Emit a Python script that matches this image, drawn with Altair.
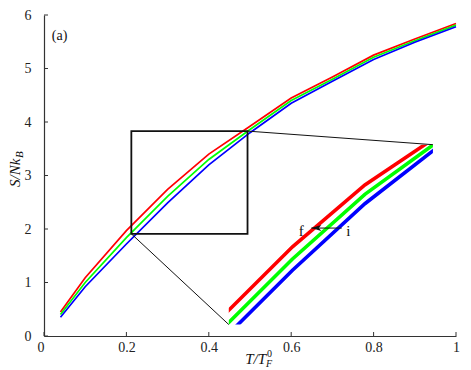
import altair as alt
import pandas as pd

# ---- data ----
T = [0.04, 0.1, 0.2, 0.3, 0.4, 0.5, 0.6, 0.7, 0.8, 0.9, 1.0]
S_red = [0.45, 1.09, 1.97, 2.74, 3.40, 3.92, 4.45, 4.84, 5.25, 5.55, 5.84]
S_green = [0.40, 1.00, 1.84, 2.61, 3.30, 3.86, 4.40, 4.80, 5.21, 5.52, 5.81]
S_blue = [0.35, 0.92, 1.72, 2.49, 3.20, 3.80, 4.35, 4.76, 5.17, 5.49, 5.78]
series = ["red", "green", "blue"]
colors = ["#ff0000", "#00ff00", "#0000ff"]

x_ticks = [0, 0.2, 0.4, 0.6, 0.8, 1]
y_ticks = [0, 1, 2, 3, 4, 5, 6]

# zoom box (data units) and where its magnified copy sits (main data units)
zoom_x = [0.212, 0.494]
zoom_y = [1.91, 3.83]
inset_x = [0.4485, 0.944]
inset_y = [0.2136, 3.576]

# arrow annotation inside the inset (zoomed data units)
arrow_T = [0.368, 0.326]
arrow_S = 2.94
label_text = ["f", "i"]
label_T = [0.312, 0.377]
label_S = [2.905, 2.905]

W, H = 412, 321
FONT = "Liberation Serif, Times New Roman, serif"

rows = []
for name, vals in zip(series, [S_red, S_green, S_blue]):
    for t, s in zip(T, vals):
        rows.append({"T": t, "S": s, "series": name})
df = pd.DataFrame(rows)

kx = (inset_x[1] - inset_x[0]) / (zoom_x[1] - zoom_x[0])
ky = (inset_y[1] - inset_y[0]) / (zoom_y[1] - zoom_y[0])
ex_x = f"{inset_x[0]} + (datum.T - {zoom_x[0]}) * {kx}"
ex_y = f"{inset_y[0]} + (datum.S - {zoom_y[0]}) * {ky}"


def mag(ch):
    return ch.transform_calculate(Ti=ex_x, Si=ex_y)


xsc = alt.Scale(domain=[0, 1], nice=False, zero=False)
ysc = alt.Scale(domain=[0, 6], nice=False, zero=False)
csc = alt.Scale(domain=series, range=colors)

xaxis = alt.Axis(
    values=x_ticks, labelExpr="'' + datum.value", title=None,
    ticks=False, grid=False, labelPadding=4,
    labelAlign={"condition": {"test": "datum.value == 0", "value": "right"},
                "value": "center"},
)
yaxis = alt.Axis(values=y_ticks, format="d", title=None, ticks=False,
                 grid=False, labelPadding=13)

main = alt.Chart(df).mark_line(strokeWidth=1.7).encode(
    x=alt.X("T:Q", scale=xsc, axis=xaxis),
    y=alt.Y("S:Q", scale=ysc, axis=yaxis),
    color=alt.Color("series:N", scale=csc, legend=None),
)

cx0, cx1 = inset_x[0] * W, inset_x[1] * W
cy0, cy1 = H * (1 - inset_y[1] / 6), H * (1 - inset_y[0] / 6)
clip_path = f"M{cx0:.2f},{cy0:.2f}H{cx1:.2f}V{cy1:.2f}H{cx0:.2f}Z"

inset = mag(alt.Chart(df)).mark_line(
    strokeWidth=3.6, clip=alt.ExprRef(expr=f"pathShape('{clip_path}')")
).encode(
    x=alt.X("Ti:Q", scale=xsc, axis=xaxis),
    y=alt.Y("Si:Q", scale=ysc, axis=yaxis),
    color=alt.Color("series:N", scale=csc, legend=None),
)

box_df = pd.DataFrame({"x": [zoom_x[0]], "x2": [zoom_x[1]],
                       "y": [zoom_y[0]], "y2": [zoom_y[1]]})
box = alt.Chart(box_df).mark_rect(fillOpacity=0, stroke="#111", strokeWidth=1.8).encode(
    x="x:Q", x2="x2:Q", y="y:Q", y2="y2:Q")

corner_df = pd.DataFrame({"T": [zoom_x[0], zoom_x[1]], "S": [zoom_y[0], zoom_y[1]]})
connectors = mag(alt.Chart(corner_df)).mark_rule(color="#111", strokeWidth=1).encode(
    x="T:Q", y="S:Q", x2="Ti:Q", y2="Si:Q")

arrow_df = pd.DataFrame({"T": [arrow_T[0]], "T2": [arrow_T[1]], "S": [arrow_S]})
arrow_line = alt.Chart(arrow_df).transform_calculate(
    Ti=ex_x, Si=ex_y,
    Ti2=f"{inset_x[0]} + (datum.T2 - {zoom_x[0]}) * {kx}",
).mark_rule(color="#111", strokeWidth=1).encode(x="Ti:Q", x2="Ti2:Q", y="Si:Q")

head_df = pd.DataFrame({"T": [arrow_T[1]], "S": [arrow_S]})
arrow_head = mag(alt.Chart(head_df)).mark_point(
    shape="M0,0L2,-0.6L1.5,0L2,0.6Z", size=100, filled=True, color="#111", opacity=1
).encode(x="Ti:Q", y="Si:Q")

lab_df = pd.DataFrame({"T": label_T, "S": label_S, "txt": label_text})
labels = mag(alt.Chart(lab_df)).mark_text(
    font=FONT, fontSize=15, baseline="middle", align="center", color="#111"
).encode(x="Ti:Q", y="Si:Q", text="txt:N")

panel_df = pd.DataFrame({"T": [0.019], "S": [5.61], "txt": ["(a)"]})
panel = alt.Chart(panel_df).mark_text(
    font=FONT, fontSize=14, align="left", baseline="middle", color="#111"
).encode(x="T:Q", y="S:Q", text="txt:N")

# inward tick marks
xt = alt.Chart(pd.DataFrame({"v": x_ticks})).mark_rule(color="#333", strokeWidth=1).encode(
    x="v:Q", y=alt.value(H), y2=alt.value(H - 4))
yt = alt.Chart(pd.DataFrame({"v": y_ticks})).mark_rule(color="#333", strokeWidth=1).encode(
    y="v:Q", x=alt.value(0), x2=alt.value(4))

# axis titles with sub/superscripts
def txt(s, x, y, size, style="italic", align="left", angle=0):
    kw = dict(font=FONT, fontSize=size, align=align, baseline="alphabetic",
              color="#111", fontStyle=style)
    if angle:
        kw["angle"] = angle
    return alt.Chart(pd.DataFrame({"t": [s]})).mark_text(**kw).encode(
        x=alt.value(x), y=alt.value(y), text="t:N")

ytitle = txt("S/Nk", -24, 172, 15, angle=270)
ytitle_sub = txt("B", -21, 143, 11, angle=270)
xtitle = txt("T/T", 222, 349, 15, align="right")
xtitle_sup = txt("0", 223, 342, 10, style="normal")
xtitle_sub = txt("F", 222, 352, 10)

chart = alt.layer(
    main, inset, box, connectors, arrow_line, arrow_head, labels, panel,
    xt, yt, ytitle, ytitle_sub, xtitle, xtitle_sup, xtitle_sub,
).properties(
    width=W, height=H,
    padding={"left": 36, "top": 7, "right": 5, "bottom": 36},
    autosize=alt.AutoSizeParams(type="none"),
).configure_view(stroke=None).configure_axis(
    labelFont=FONT, labelFontSize=14, labelColor="#222",
    domainColor="#333", domainWidth=1.2,
)

chart.save("out.html", embed_options={"renderer": "svg", "actions": False})
